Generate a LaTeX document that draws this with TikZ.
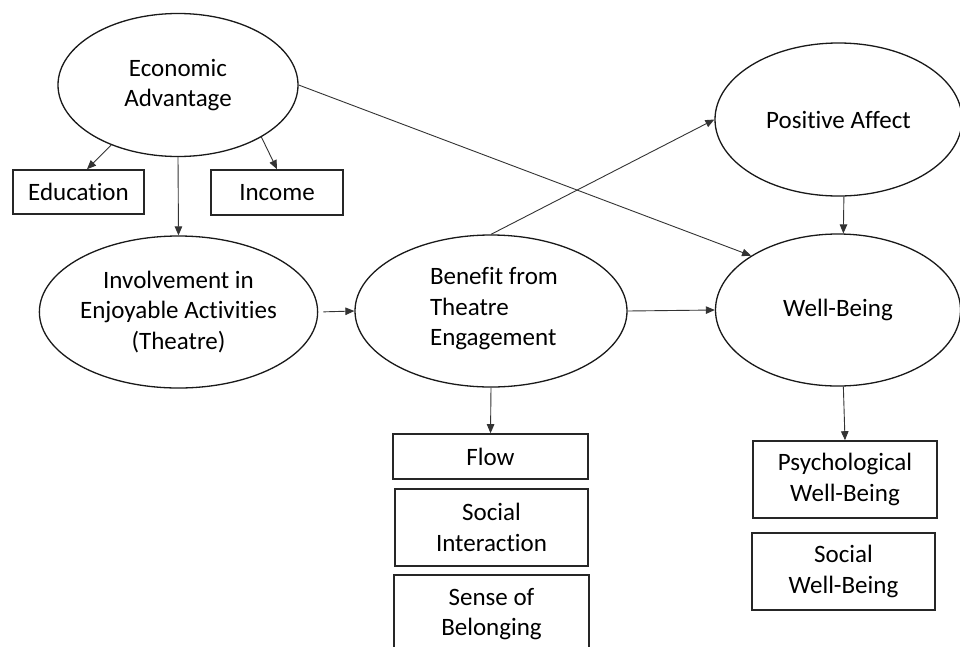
\documentclass[tikz,border=0pt]{standalone}
\usepackage{fontspec}
\setmainfont{Carlito}[Ligatures=NoCommon]
\usetikzlibrary{shapes.geometric,arrows.meta,calc}
\begin{document}
\begin{tikzpicture}[x=1pt,y=-1pt,
  every node/.style={font=\fontsize{25}{30.5}\selectfont, text=black},
  latent/.style={draw=black!90, line width=1.3pt, ellipse, inner sep=0pt, align=center},
  obsbox/.style={draw=black!85, line width=1.6pt, rectangle, inner sep=0pt, align=center},
  conn/.style={draw=black!80, line width=0.9pt, -{Triangle[length=9pt,width=7.5pt]}}]
\clip (0,0) rectangle (960,646);
\fill[white] (0,0) rectangle (960,646);
% latent variables
\node[latent, minimum width=240pt, minimum height=143pt] (econ) at (178,85) {Economic\\Advantage};
\node[latent, minimum width=255pt, minimum height=152pt] (inv) at (178.5,312) {Involvement in\\Enjoyable Activities\\(Theatre)};
\node[latent, minimum width=272pt, minimum height=152pt] (ben) at (491,311) {};
\node[align=left] (bentext) at (494,309) {Benefit from\\Theatre\\Engagement};
\node[latent, minimum width=247pt, minimum height=153pt] (pa) at (838.5,119.5) {Positive Affect};
\node[latent, minimum width=245pt, minimum height=152pt] (wb) at (838,310) {Well-Being};
% indicators
\node[obsbox, minimum width=131pt, minimum height=44pt] (edu) at (78.5,192) {Education};
\node[obsbox, minimum width=132pt, minimum height=45pt] (inc) at (277,192.5) {Income};
\node[obsbox, minimum width=195pt, minimum height=45pt] (flow) at (490.5,456.5) {Flow};
\node[obsbox, minimum width=193pt, minimum height=77pt] (si) at (491.5,527.5) {Social\\Interaction};
\node[obsbox, minimum width=195pt, minimum height=78pt] (sb) at (491.5,614) {Sense of\\Belonging};
\node[obsbox, minimum width=184pt, minimum height=77pt] (psy) at (845,479.5) {Psychological\\Well-Being};
\node[obsbox, minimum width=183pt, minimum height=77pt] (swb) at (843.5,571.5) {Social\\Well-Being};
% connectors
\draw[conn] (econ.222) -- ($(edu.north)+(8.5,0)$);
\draw[conn] (econ.328.5) -- (inc.north);
\draw[conn] (econ.south) -- (inv.north);
\draw[conn] (econ.east) -- (wb.148.5);
\draw[conn, shorten <=5pt] (inv.east) -- (ben.west);
\draw[conn] (ben.north) -- (pa.west);
\draw[conn] (ben.east) -- (wb.west);
\draw[conn] (ben.south) -- (flow.north);
\draw[conn] (pa.274) -- (wb.86);
\draw[conn] (wb.274) -- (psy.north);
\end{tikzpicture}
\end{document}
